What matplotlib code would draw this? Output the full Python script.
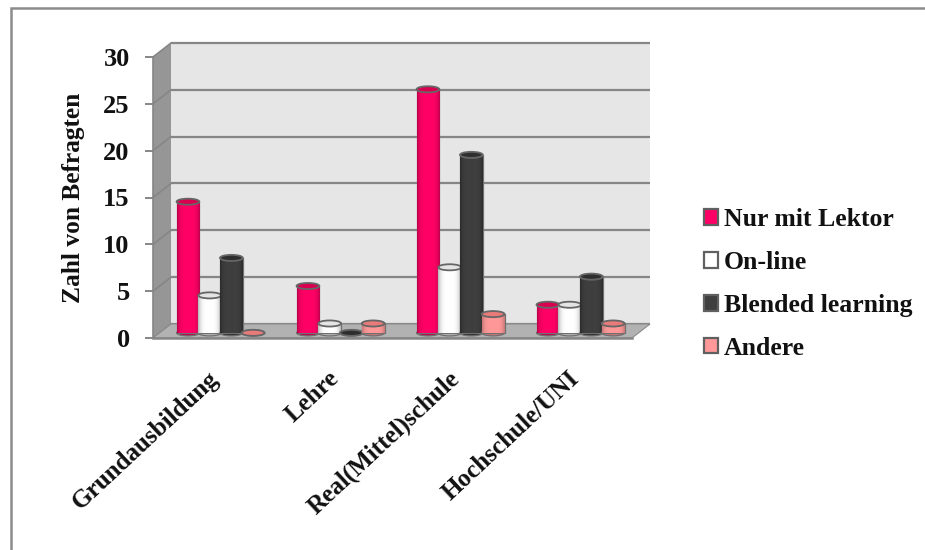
import matplotlib
matplotlib.use("Agg")
import matplotlib.pyplot as plt
import numpy as np
from matplotlib.lines import Line2D
from matplotlib.patches import Ellipse, Polygon, Rectangle
from matplotlib.colors import to_rgb

categories = ["Grundausbildung", "Lehre", "Real(Mittel)schule", "Hochschule/UNI"]
series_names = ["Nur mit Lektor", "On-line", "Blended learning", "Andere"]
nur_mit_lektor = [14, 5, 26, 3]
on_line = [4, 1, 7, 3]
blended = [8, 0, 19, 6]
andere = [0, 1, 2, 1]
series_values = [nur_mit_lektor, on_line, blended, andere]
colors = ["#FF0066", "#FFFFFF", "#3F3F3F", "#FF9999"]
y_ticks = [0, 5, 10, 15, 20, 25, 30]

W, H = 925, 550
plt.rcParams["font.family"] = ["Liberation Serif", "DejaVu Serif"]
plt.rcParams["font.weight"] = "bold"
fig = plt.figure(figsize=(W / 100, H / 100), dpi=100, facecolor="white")

def px_box(l, t, r, b):
    return [l / W, 1 - b / H, (r - l) / W, (b - t) / H]

# only the top and left edges of the frame are visible
fig.add_artist(Line2D([10.5 / W, 10.5 / W, 1], [0, 1 - 8 / H, 1 - 8 / H], transform=fig.transFigure,
                      color="#8C8C8C", lw=1.8, solid_joinstyle="miter"))

ax = fig.add_axes(px_box(153, 57, 632, 338))
ax.set_xlim(-0.563, 3.429)
ax.set_ylim(0, 30)
ax.patch.set_visible(False)

# depth of the pseudo-3D floor, in data units
dx = 18 / 120
dy = 14 / (281 / 30)
x0, x1 = ax.get_xlim()
ax.add_patch(Polygon([(x0 + dx, dy), (x1 + dx, dy), (x1 + dx, 30 + dy), (x0 + dx, 30 + dy)],
                     fc="#E6E6E6", ec="none", clip_on=False, zorder=0))
ax.add_patch(Polygon([(x0, 0), (x0 + dx, dy), (x0 + dx, 30 + dy), (x0, 30)],
                     fc="#969696", ec="none", clip_on=False, zorder=0))
ax.add_patch(Polygon([(x0, 0), (x1, 0), (x1 + dx, dy), (x0 + dx, dy)],
                     fc="#B2B2B2", ec="#8C8C8C", lw=0.8, clip_on=False, zorder=0.5))
for t in y_ticks:
    ax.plot([x0 + dx, x1 + dx], [t + dy, t + dy], color="#868686", lw=1.6, clip_on=False, zorder=0.3,
            solid_capstyle="butt")
    ax.plot([x0, x0 + dx], [t, t + dy], color="#868686", lw=1.2, clip_on=False, zorder=0.3)

# bars, standing slightly in front of the back wall
bar_w = 0.19
bar_step = 0.181
base = 0.55
cap_h = 0.65
offs = np.array([-1.5, -0.5, 0.5, 1.5]) * bar_step
shade = np.abs(np.linspace(-1, 1, 40))
for s, (vals, col) in enumerate(zip(series_values, colors)):
    rgb = np.array(to_rgb(col))
    if col == "#FFFFFF":
        dark = rgb * 0.72
        top_col = "#E4E4E4"
    elif col == "#3F3F3F":
        dark = rgb * 0.7
        top_col = "#2E2E2E"
    elif col == "#FF9999":
        dark = rgb * 0.78
        top_col = "#E87A7A"
    else:
        dark = rgb * 0.75
        top_col = "#D8004F"
    grad = np.array([[rgb * (1 - w ** 4) + dark * w ** 4 for w in shade]])
    for i, v in enumerate(vals):
        xc = i + offs[s]
        z = 2 + s * 0.01 + i
        ax.bar(xc, v, bar_w, bottom=base, color=col, edgecolor="#707070", lw=0.9, zorder=z)
        ax.imshow(grad, extent=[xc - bar_w / 2, xc + bar_w / 2, base, base + v],
                  aspect="auto", zorder=z + 0.001, interpolation="bilinear")
        ax.add_patch(Ellipse((xc, base), bar_w, cap_h, fc=dark, ec="#707070", lw=0.9, zorder=z - 0.001))
        ax.add_patch(Ellipse((xc, base + v), bar_w, cap_h, fc=top_col, ec="#666666", lw=1.3,
                             zorder=z + 0.002))
ax.set_xlim(x0, x1)
ax.set_ylim(0, 30)

for sp in ax.spines.values():
    sp.set_visible(False)
ax.spines["left"].set_visible(True)
ax.spines["left"].set_color("#868686")
ax.spines["left"].set_linewidth(1.2)
ax.spines["bottom"].set_visible(True)
ax.spines["bottom"].set_color("#868686")
ax.spines["bottom"].set_linewidth(1.8)

ax.set_yticks(y_ticks)
ax.set_yticklabels([str(t) for t in y_ticks], fontsize=19, fontweight="bold", color="#111111")
ax.tick_params(axis="y", length=5.8, width=1.4, color="#868686", pad=11)
ax.set_xticks([])
ax.set_ylabel("Zahl von Befragten", fontsize=18.3, fontweight="bold", color="#111111")
ax.yaxis.set_label_coords((85 - 153) / 479, 0.5)

for i, cat in enumerate(categories):
    ax.annotate(cat, xy=(i, 0), xytext=(-12.5, -29), textcoords="offset pixels",
                rotation=43, ha="right", va="top", rotation_mode="anchor",
                fontsize=18.1, fontweight="bold", color="#111111", annotation_clip=False)

handles = [Rectangle((0, 0), 1, 1, fc=c, ec="#606060", lw=1.6) for c in colors]
leg = fig.legend(handles, series_names, loc="upper left", bbox_to_anchor=(704 / W, 1 - 208 / H),
                 frameon=False, fontsize=18.5, handlelength=0.55, handleheight=0.55, handletextpad=0.23,
                 labelspacing=0.776, borderpad=0, borderaxespad=0)
for t in leg.get_texts():
    t.set_fontweight("bold")
    t.set_color("#111111")

fig.savefig("out.png", dpi=100)
